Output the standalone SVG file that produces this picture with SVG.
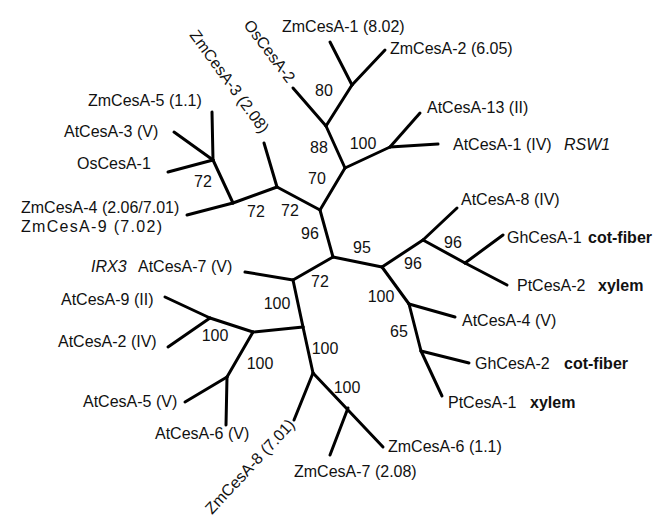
<svg xmlns="http://www.w3.org/2000/svg" width="670" height="519" viewBox="0 0 670 519">
<style>
text{font-family:"Liberation Sans",Arial,sans-serif;font-size:16px;fill:#111}
.b{font-weight:bold}
.i{font-style:italic}
.n{text-anchor:middle}
#edges line{stroke:#000;stroke-width:3;stroke-linecap:round}
</style>
<rect width="670" height="519" fill="#fff"/>
<g id="edges">
<line x1="213" y1="160" x2="212" y2="112"/>
<line x1="213" y1="160" x2="174" y2="132"/>
<line x1="213" y1="160" x2="168" y2="172"/>
<line x1="213" y1="160" x2="233" y2="203"/>
<line x1="233" y1="203" x2="187" y2="215"/>
<line x1="233" y1="203" x2="277" y2="187"/>
<line x1="277" y1="187" x2="264" y2="143"/>
<line x1="277" y1="187" x2="320" y2="210"/>
<line x1="320" y1="210" x2="345" y2="168"/>
<line x1="345" y1="168" x2="326" y2="126"/>
<line x1="326" y1="126" x2="293" y2="88"/>
<line x1="326" y1="126" x2="352" y2="85"/>
<line x1="352" y1="85" x2="330" y2="42"/>
<line x1="352" y1="85" x2="385" y2="50"/>
<line x1="345" y1="168" x2="390" y2="147"/>
<line x1="390" y1="147" x2="420" y2="113"/>
<line x1="390" y1="147" x2="438" y2="144"/>
<line x1="320" y1="210" x2="333" y2="257"/>
<line x1="333" y1="257" x2="382" y2="267"/>
<line x1="333" y1="257" x2="293" y2="280"/>
<line x1="293" y1="280" x2="245" y2="272"/>
<line x1="293" y1="280" x2="303" y2="327"/>
<line x1="303" y1="327" x2="253" y2="332"/>
<line x1="253" y1="332" x2="210" y2="318"/>
<line x1="210" y1="318" x2="165" y2="297"/>
<line x1="210" y1="318" x2="168" y2="347"/>
<line x1="253" y1="332" x2="227" y2="377"/>
<line x1="227" y1="377" x2="185" y2="402"/>
<line x1="227" y1="377" x2="226" y2="425"/>
<line x1="303" y1="327" x2="313" y2="373"/>
<line x1="313" y1="373" x2="294" y2="420"/>
<line x1="313" y1="373" x2="383" y2="447"/>
<line x1="348" y1="408" x2="330" y2="455"/>
<line x1="382" y1="267" x2="423" y2="240"/>
<line x1="423" y1="240" x2="457" y2="208"/>
<line x1="423" y1="240" x2="465" y2="263"/>
<line x1="465" y1="263" x2="503" y2="235"/>
<line x1="465" y1="263" x2="507" y2="285"/>
<line x1="382" y1="267" x2="409" y2="304"/>
<line x1="409" y1="304" x2="455" y2="317"/>
<line x1="409" y1="304" x2="421" y2="351"/>
<line x1="421" y1="351" x2="469" y2="363"/>
<line x1="421" y1="351" x2="442" y2="396"/>
</g>
<g id="leaves">
<g id="ZmCesA-5"><text x="88" y="106">ZmCesA-5 (1.1)</text></g>
<g id="AtCesA-3"><text x="64" y="137">AtCesA-3 (V)</text></g>
<g id="OsCesA-1"><text x="77" y="169">OsCesA-1</text></g>
<g id="ZmCesA-4"><text x="21" y="213">ZmCesA-4 (2.06/7.01)</text><text x="21" y="232" textLength="141">ZmCesA-9 (7.02)</text></g>
<g id="AtCesA-7"><text x="91" y="272" class="i">IRX3</text><text x="138" y="272">AtCesA-7 (V)</text></g>
<g id="AtCesA-9"><text x="61" y="305">AtCesA-9 (II)</text></g>
<g id="AtCesA-2"><text x="58" y="347">AtCesA-2 (IV)</text></g>
<g id="AtCesA-5"><text x="83" y="407">AtCesA-5 (V)</text></g>
<g id="AtCesA-6"><text x="155" y="439">AtCesA-6 (V)</text></g>
<g id="ZmCesA-8"><text transform="translate(212,515) rotate(-47)">ZmCesA-8 (7.01)</text></g>
<g id="ZmCesA-7"><text x="294" y="477">ZmCesA-7 (2.08)</text></g>
<g id="ZmCesA-6"><text x="388" y="452">ZmCesA-6 (1.1)</text></g>
<g id="PtCesA-1"><text x="448" y="408">PtCesA-1</text><text x="530" y="408" class="b">xylem</text></g>
<g id="GhCesA-2"><text x="475" y="369">GhCesA-2</text><text x="564" y="369" class="b">cot-fiber</text></g>
<g id="AtCesA-4"><text x="462" y="326">AtCesA-4 (V)</text></g>
<g id="PtCesA-2"><text x="517" y="291">PtCesA-2</text><text x="598" y="291" class="b">xylem</text></g>
<g id="GhCesA-1"><text x="507" y="243">GhCesA-1</text><text x="588" y="243" class="b">cot-fiber</text></g>
<g id="AtCesA-8"><text x="461" y="205">AtCesA-8 (IV)</text></g>
<g id="AtCesA-1"><text x="453" y="150">AtCesA-1 (IV)</text><text x="564" y="150" class="i">RSW1</text></g>
<g id="AtCesA-13"><text x="427" y="113">AtCesA-13 (II)</text></g>
<g id="ZmCesA-2"><text x="390" y="54">ZmCesA-2 (6.05)</text></g>
<g id="ZmCesA-1"><text x="282" y="32">ZmCesA-1 (8.02)</text></g>
<g id="OsCesA-2"><text transform="translate(243,25) rotate(53)">OsCesA-2</text></g>
<g id="ZmCesA-3"><text transform="translate(189,35) rotate(54)">ZmCesA-3 (2.08)</text></g>
</g>
<g id="support">
<text class="n" x="324" y="96">80</text>
<text class="n" x="319" y="153">88</text>
<text class="n" x="363" y="149">100</text>
<text class="n" x="317" y="184">70</text>
<text class="n" x="203" y="187">72</text>
<text class="n" x="256" y="217">72</text>
<text class="n" x="290" y="216">72</text>
<text class="n" x="310" y="239">96</text>
<text class="n" x="362" y="253">95</text>
<text class="n" x="453" y="248">96</text>
<text class="n" x="413" y="269">96</text>
<text class="n" x="320" y="287">72</text>
<text class="n" x="381" y="302">100</text>
<text class="n" x="399" y="337">65</text>
<text class="n" x="277" y="309">100</text>
<text class="n" x="215" y="341">100</text>
<text class="n" x="325" y="354">100</text>
<text class="n" x="260" y="369">100</text>
<text class="n" x="347" y="393">100</text>
</g>
</svg>
